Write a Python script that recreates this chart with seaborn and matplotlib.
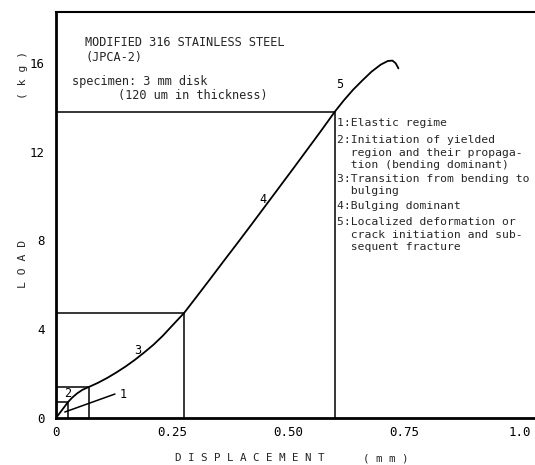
import matplotlib
matplotlib.use("Agg")
import matplotlib.pyplot as plt
import seaborn as sns
import pandas as pd

# ---- data ----
displacement = [0.0, 0.026, 0.035, 0.045, 0.057, 0.071,
                0.09, 0.11, 0.13, 0.15, 0.17, 0.19, 0.21, 0.23, 0.25, 0.276,
                0.30, 0.33, 0.36, 0.39, 0.42, 0.45, 0.48, 0.51, 0.54, 0.57,
                0.601, 0.62, 0.64, 0.66, 0.68, 0.70, 0.715, 0.725, 0.732,
                0.738]
load = [0.0, 0.72, 0.92, 1.10, 1.27, 1.40,
        1.58, 1.80, 2.05, 2.32, 2.62, 2.95, 3.30, 3.70, 4.15, 4.73,
        5.38, 6.20, 7.03, 7.85, 8.68, 9.52, 10.36, 11.20, 12.05, 12.90,
        13.8, 14.30, 14.78, 15.20, 15.60, 15.92, 16.08, 16.10, 15.98,
        15.75]

# regime boundaries (points on the curve)
corner_disp = [0.026, 0.071, 0.276, 0.601]
corner_load = [0.72, 1.40, 4.73, 13.8]

# leader line for regime 1
leader_disp = [0.019, 0.127]
leader_load = [0.27, 1.08]

x_ticks = [0, 0.25, 0.50, 0.75, 1.0]
x_tick_labels = ["0", "0.25", "0.50", "0.75", "1.0"]
y_ticks = [0, 4, 8, 12, 16]
y_tick_labels = ["0", "4", "8", "12", "16"]

regime_labels = ["1", "2", "3", "4", "5"]
regime_label_disp = [0.145, 0.026, 0.176, 0.446, 0.612]
regime_label_load = [1.05, 1.12, 3.05, 9.85, 15.0]

legend_lines = [
    "1:Elastic regime",
    "2:Initiation of yielded",
    "  region and their propaga-",
    "  tion (bending dominant)",
    "3:Transition from bending to",
    "  bulging",
    "4:Bulging dominant",
    "5:Localized deformation or",
    "  crack initiation and sub-",
    "  sequent fracture",
]

sns.set_style("white")
plt.rcParams["font.family"] = ["DejaVu Sans Mono", "DejaVu Sans"]

fig = plt.figure(figsize=(5.35, 4.65), dpi=100)
ax = fig.add_axes([56 / 535, 1 - 418 / 465, 1 - 56 / 535, (418 - 12) / 465])

# pixel helpers for placing annotations
X0, XS = 56, 464.0
Y0, YS = 418, 22.2
def px(x):
    return (x - X0) / XS
def py(y):
    return (Y0 - y) / YS

df = pd.DataFrame({"disp": displacement, "load": load})
sns.lineplot(data=df, x="disp", y="load", ax=ax, color="black", lw=1.3,
             sort=False, estimator=None)

# regime boxes
ax.hlines(corner_load, 0, corner_disp, color="black", lw=1.1)
ax.vlines(corner_disp, 0, corner_load, color="black", lw=1.1)
ax.plot(leader_disp, leader_load, color="black", lw=1.1)

ax.set_xlim(0, (535 - X0) / XS)
ax.set_ylim(0, (Y0 - 12) / YS)

ax.set_xticks(x_ticks)
ax.set_xticklabels(x_tick_labels)
ax.set_yticks(y_ticks)
ax.set_yticklabels(y_tick_labels)
ax.tick_params(axis="both", direction="in", length=9, width=1.5,
               labelsize=9, color="black", labelcolor="black", pad=8)
ax.tick_params(axis="x", pad=6)

for s in ["left", "bottom"]:
    ax.spines[s].set_linewidth(2.0)
    ax.spines[s].set_color("black")
ax.spines["top"].set_linewidth(1.5)
ax.spines["top"].set_color("black")
ax.spines["right"].set_visible(False)

ax.set_xlabel("")
ax.set_ylabel("")

for lab, x, y in zip(regime_labels, regime_label_disp, regime_label_load):
    ax.text(x, y, lab, fontsize=8.5, ha="center", va="center", color="black")

ax.text(px(85), py(42), "MODIFIED 316 STAINLESS STEEL", fontsize=8.6,
        ha="left", va="center")
ax.text(px(85), py(58), "(JPCA-2)", fontsize=8.6, ha="left", va="center")
ax.text(px(72), py(81), "specimen: 3 mm disk", fontsize=8.6, ha="left",
        va="center")
ax.text(px(118), py(96), "(120 um in thickness)", fontsize=8.6, ha="left",
        va="center")

legend_y = [123, 140, 152.5, 165, 179, 191.5, 206, 222, 234.5, 247]
for t, y in zip(legend_lines, legend_y):
    ax.text(px(337), py(y), t, fontsize=8.2, ha="left", va="center",
            clip_on=False)

fig.text(175 / 535, 1 - 458 / 465, "D I S P L A C E M E N T", fontsize=7.8,
         ha="left", va="center")
fig.text(363 / 535, 1 - 458 / 465, "( m m )", fontsize=7.8, ha="left",
         va="center")
fig.text(23 / 535, 1 - 264 / 465, "L O A D", fontsize=8.2, rotation=90,
         ha="center", va="center")
fig.text(23 / 535, 1 - 75 / 465, "( k g )", fontsize=8.2, rotation=90,
         ha="center", va="center")

fig.savefig("out.png", dpi=100)
